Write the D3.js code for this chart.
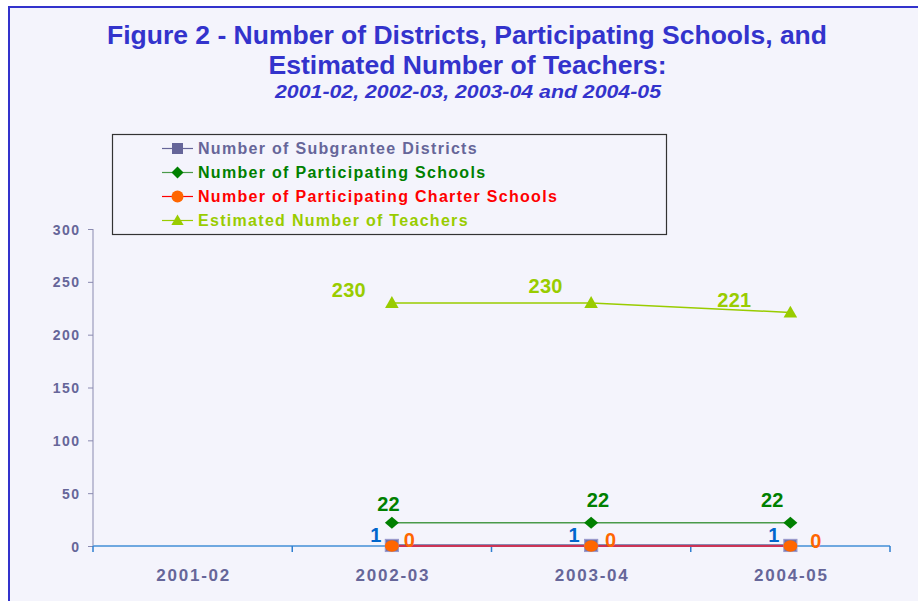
<!DOCTYPE html>
<html><head><meta charset="utf-8">
<script src="https://cdn.jsdelivr.net/npm/d3@7"></script>
<style>body{margin:0;background:#fff}svg{display:block}</style>
</head><body>
<script>
const categories = ["2001-02", "2002-03", "2003-04", "2004-05"];
const districts = [null, 1, 1, 1];
const schools = [null, 22, 22, 22];
const charter = [null, 0, 0, 0];
const teachers = [null, 230, 230, 221];
const yTicks = [0, 50, 100, 150, 200, 250, 300];
const seriesNames = ["Number of Subgrantee Districts", "Number of Participating Schools", "Number of Participating Charter Schools", "Estimated Number of Teachers"];

const W = 918, H = 601;
const svg = d3.select("body").append("svg").attr("width", W).attr("height", H);
svg.append("rect").attr("x", 9).attr("y", 7).attr("width", W).attr("height", H)
  .attr("fill", "#f4f4fc").attr("stroke", "#3333cc").attr("stroke-width", 2);

const x = d3.scaleBand().domain(categories).range([93, 890]);
const y = d3.scaleLinear().domain([0, 300]).range([546, 229]);
const cx = c => x(c) + x.bandwidth() / 2;

const af = "Arial, 'Liberation Sans', sans-serif";
// titles
const title = (t, xx, yy, size, len, italic) => svg.append("text").attr("x", xx).attr("y", yy)
  .attr("text-anchor", "middle").attr("font-family", af).attr("font-weight", "bold")
  .attr("font-style", italic ? "italic" : "normal").attr("font-size", size).attr("fill", "#3333cc")
  .attr("textLength", len).attr("lengthAdjust", "spacingAndGlyphs").text(t);
title("Figure 2 - Number of Districts, Participating Schools, and", 467, 44, 26, 720, false);
title("Estimated Number of Teachers:", 467.5, 74, 26, 398, false);
title("2001-02, 2002-03, 2003-04 and 2004-05", 468, 98, 18, 386, true);

// axes
const yAxis = svg.append("g").attr("transform", "translate(93,0)")
  .call(d3.axisLeft(y).tickValues(yTicks).tickSize(5).tickPadding(9));
yAxis.select(".domain").attr("stroke", "#8a8ab0").attr("d", "M0," + y(300) + "V" + y(0));
yAxis.selectAll(".tick line").attr("stroke", "#8a8ab0");
yAxis.selectAll("text").attr("font-family", af).attr("font-weight", "bold")
  .attr("font-size", 14).attr("fill", "#666699").attr("letter-spacing", "1.4px").attr("dx", "1.4px").attr("dy", "0.36em");

const xAxis = svg.append("g").attr("transform", "translate(0,546)");
xAxis.append("line").attr("x1", 93).attr("x2", 890).attr("stroke", "#6fa8e0").attr("stroke-width", 2);
const edges = categories.map(c => x(c)).concat([x.range()[1]]);
xAxis.selectAll(".xt").data(edges).join("line").attr("x1", d => d).attr("x2", d => d)
  .attr("y1", 0).attr("y2", 6).attr("stroke", "#2f7fd0").attr("stroke-width", 1.5);
xAxis.selectAll(".xl").data(categories).join("text")
  .attr("x", d => cx(d) + 1).attr("y", 35).attr("text-anchor", "middle")
  .attr("font-family", af).attr("font-weight", "bold")
  .attr("font-size", 17).attr("fill", "#666699").attr("letter-spacing", "1.8px").text(d => d);

const pts = arr => categories.map((c, i) => ({c, v: arr[i]})).filter(d => d.v !== null);
const line = d3.line().x(d => cx(d.c)).y(d => y(d.v));

svg.append("path").datum(pts(teachers)).attr("d", line).attr("fill", "none").attr("stroke", "#99cc00").attr("stroke-width", 1.5);
svg.append("path").datum(pts(schools)).attr("d", line).attr("fill", "none").attr("stroke", "#4a9a4a").attr("stroke-width", 1.5);
svg.append("path").datum(pts(districts)).attr("d", line).attr("fill", "none").attr("stroke", "#666699").attr("stroke-width", 1.5);
svg.append("path").datum(pts(charter)).attr("d", line).attr("fill", "none").attr("stroke", "#cc3355").attr("stroke-width", 2.2);

const tri = d3.symbol().type(d3.symbolTriangle).size(80);
const diamond = (w, h) => `M${-w},0L0,${-h}L${w},0L0,${h}Z`;

svg.selectAll(".tm").data(pts(teachers)).join("path").attr("d", tri)
  .attr("transform", d => `translate(${cx(d.c)},${y(d.v) + 1})`).attr("fill", "#99cc00");
svg.selectAll(".sm").data(pts(schools)).join("path").attr("d", diamond(7, 6))
  .attr("transform", d => `translate(${cx(d.c)},${y(d.v)})`).attr("fill", "#008000");
svg.selectAll(".dm").data(pts(districts)).join("rect")
  .attr("x", d => cx(d.c) - 6.5).attr("y", d => y(d.v) - 5.5).attr("width", 13).attr("height", 12)
  .attr("fill", "#6f6fa6").attr("stroke", "#9a9acc").attr("stroke-width", 1.2);
svg.selectAll(".cm").data(pts(charter)).join("ellipse")
  .attr("cx", d => cx(d.c)).attr("cy", d => y(d.v)).attr("rx", 7).attr("ry", 5.8).attr("fill", "#ff6600");

// data labels
const lab = (data, dx, dy, color) => svg.append("g").selectAll("text").data(data).join("text")
  .attr("x", (d, i) => cx(d.c) + dx[i])
  .attr("y", (d, i) => y(d.v) + dy[i])
  .attr("text-anchor", "middle").attr("font-family", af).attr("font-weight", "bold").attr("font-size", 20)
  .attr("fill", color).attr("letter-spacing", "0.3px").text(d => d.v);
lab(pts(teachers), [-43, -45.5, -56], [-6, -10, -5.5], "#99cc00");
lab(pts(schools), [-3.3, 7, -18], [-12, -16, -16], "#008000");
lab(pts(districts), [-16, -17, -16.5], [-2.5, -2.5, -2.5], "#0066cc");
lab(pts(charter), [17.5, 19.5, 25.5], [0.5, 0.5, 2], "#ff6600");

// legend
const lg = svg.append("g");
lg.append("rect").attr("x", 112.5).attr("y", 134.5).attr("width", 554).attr("height", 100)
  .attr("fill", "#f4f4fc").attr("stroke", "#333").attr("stroke-width", 1.2);
const legColors = ["#666699", "#008000", "#ff0000", "#99cc00"];
const legLine = ["#666699", "#4a9a4a", "#ff0000", "#99cc00"];
const ly = i => 148.5 + i * 24;
seriesNames.forEach((n, i) => {
  lg.append("line").attr("x1", 162).attr("x2", 193).attr("y1", ly(i)).attr("y2", ly(i)).attr("stroke", legLine[i]).attr("stroke-width", 1.2);
  const mx = 177.5;
  if (i === 0) lg.append("rect").attr("x", mx - 5.5).attr("y", ly(i) - 5.5).attr("width", 11).attr("height", 11).attr("fill", "#666699");
  if (i === 1) lg.append("path").attr("d", diamond(6, 6)).attr("transform", `translate(${mx},${ly(i)})`).attr("fill", "#008000");
  if (i === 2) lg.append("circle").attr("cx", mx).attr("cy", ly(i)).attr("r", 6).attr("fill", "#ff6600");
  if (i === 3) lg.append("path").attr("d", d3.symbol().type(d3.symbolTriangle).size(65)).attr("transform", `translate(${mx},${ly(i) + 1})`).attr("fill", "#99cc00");
  lg.append("text").attr("x", 198).attr("y", ly(i) + 5.5).attr("font-family", af).attr("font-weight", "bold")
    .attr("font-size", 16).attr("letter-spacing", "1.3px").attr("fill", legColors[i]).text(n);
});
</script>
</body></html>
